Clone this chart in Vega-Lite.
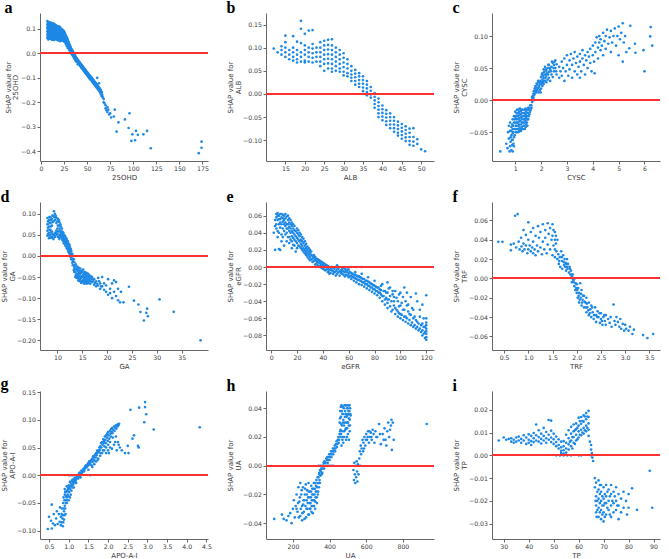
{
  "$schema": "https://vega.github.io/schema/vega-lite/v6.json",
  "padding": {"left": 0, "top": 0, "right": 0, "bottom": 0},
  "bounds": "flush",
  "columns": 3,
  "spacing": {"row": 41, "column": 58},
  "config": {
    "view": {"stroke": null},
    "font": "DejaVu Sans",
    "axis": {
      "grid": false,
      "labelFont": "DejaVu Sans",
      "labelFontSize": 6.2,
      "labelColor": "#3a3a3a",
      "titleFont": "DejaVu Sans",
      "titleFontSize": 7,
      "titleFontWeight": "normal",
      "titleColor": "#3a3a3a",
      "titleLineHeight": 7.5,
      "domainColor": "#666",
      "tickColor": "#666",
      "tickSize": 3,
      "labelPadding": 1.5,
      "titlePadding": 1.5,
      "labelFlush": false
    },
    "title": {
      "font": "Liberation Serif",
      "fontSize": 16,
      "fontWeight": "bold",
      "color": "#000",
      "anchor": "start",
      "frame": "bounds",
      "offset": -3
    }
  },
  "datasets": {
    "a": [
      {"x":7,"y":0.132},{"x":7,"y":0.118},{"x":7,"y":0.104},{"x":7,"y":0.09},{"x":7,"y":0.077},{"x":7,"y":0.063},
      {"x":8,"y":0.128},{"x":8,"y":0.112},{"x":8,"y":0.097},{"x":8,"y":0.083},{"x":8,"y":0.07},{"x":8,"y":0.057},
      {"x":9,"y":0.125},{"x":9,"y":0.11},{"x":9,"y":0.095},{"x":9,"y":0.08},{"x":9,"y":0.066},
      {"x":10,"y":0.127},{"x":10,"y":0.114},{"x":10,"y":0.1},{"x":10,"y":0.087},{"x":10,"y":0.073},{"x":10,"y":0.06},
      {"x":11,"y":0.12},{"x":11,"y":0.105},{"x":11,"y":0.092},{"x":11,"y":0.078},{"x":11,"y":0.064},
      {"x":12,"y":0.124},{"x":12,"y":0.11},{"x":12,"y":0.096},{"x":12,"y":0.082},{"x":12,"y":0.068},{"x":12,"y":0.056},
      {"x":13,"y":0.119},{"x":13,"y":0.104},{"x":13,"y":0.09},{"x":13,"y":0.076},{"x":13,"y":0.062},
      {"x":14,"y":0.122},{"x":14,"y":0.108},{"x":14,"y":0.094},{"x":14,"y":0.08},{"x":14,"y":0.066},{"x":14,"y":0.055},
      {"x":15,"y":0.118},{"x":15,"y":0.103},{"x":15,"y":0.089},{"x":15,"y":0.075},{"x":15,"y":0.061},
      {"x":16,"y":0.116},{"x":16,"y":0.1},{"x":16,"y":0.086},{"x":16,"y":0.072},{"x":16,"y":0.058},
      {"x":17,"y":0.113},{"x":17,"y":0.098},{"x":17,"y":0.084},{"x":17,"y":0.07},{"x":17,"y":0.057},
      {"x":18,"y":0.111},{"x":18,"y":0.096},{"x":18,"y":0.082},{"x":18,"y":0.068},{"x":18,"y":0.055},
      {"x":19,"y":0.108},{"x":19,"y":0.094},{"x":19,"y":0.08},{"x":19,"y":0.066},{"x":19,"y":0.053},
      {"x":20,"y":0.11},{"x":20,"y":0.097},{"x":20,"y":0.084},{"x":20,"y":0.071},{"x":20,"y":0.058},
      {"x":21,"y":0.104},{"x":21,"y":0.09},{"x":21,"y":0.077},{"x":21,"y":0.063},{"x":21,"y":0.05},
      {"x":22,"y":0.1},{"x":22,"y":0.087},{"x":22,"y":0.074},{"x":22,"y":0.06},
      {"x":23,"y":0.097},{"x":23,"y":0.083},{"x":23,"y":0.07},{"x":23,"y":0.056},
      {"x":24,"y":0.094},{"x":24,"y":0.08},{"x":24,"y":0.066},{"x":24,"y":0.052},
      {"x":25,"y":0.09},{"x":25,"y":0.077},{"x":25,"y":0.063},{"x":25,"y":0.05},
      {"x":26,"y":0.082},{"x":26,"y":0.068},{"x":26,"y":0.055},{"x":26,"y":0.045},
      {"x":27,"y":0.073},{"x":27,"y":0.06},{"x":27,"y":0.048},{"x":27,"y":0.038},
      {"x":28,"y":0.065},{"x":28,"y":0.052},{"x":28,"y":0.04},{"x":28,"y":0.03},
      {"x":29,"y":0.055},{"x":29,"y":0.042},{"x":29,"y":0.03},{"x":29,"y":0.022},
      {"x":30,"y":0.045},{"x":30,"y":0.032},{"x":30,"y":0.02},
      {"x":31,"y":0.035},{"x":31,"y":0.024},{"x":31,"y":0.013},
      {"x":32,"y":0.027},{"x":32,"y":0.016},{"x":32,"y":0.006},
      {"x":33,"y":0.018},{"x":33,"y":0.008},{"x":33,"y":-0.002},
      {"x":34,"y":0.012},{"x":34,"y":0.002},{"x":34,"y":-0.007},
      {"x":35,"y":0.004},{"x":35,"y":-0.006},{"x":35,"y":-0.013},
      {"x":36,"y":-0.003},{"x":36,"y":-0.012},{"x":36,"y":-0.02},
      {"x":37,"y":-0.01},{"x":37,"y":-0.018},{"x":37,"y":-0.026},
      {"x":38,"y":-0.016},{"x":38,"y":-0.025},{"x":38,"y":-0.033},
      {"x":39,"y":-0.022},{"x":39,"y":-0.031},
      {"x":40,"y":-0.027},{"x":40,"y":-0.037},{"x":40,"y":-0.045},
      {"x":41,"y":-0.033},{"x":41,"y":-0.043},{"x":42,"y":-0.038},{"x":42,"y":-0.048},
      {"x":43,"y":-0.043},{"x":43,"y":-0.053},{"x":44,"y":-0.048},{"x":44,"y":-0.058},
      {"x":45,"y":-0.052},{"x":45,"y":-0.063},{"x":46,"y":-0.058},{"x":46,"y":-0.068},
      {"x":47,"y":-0.062},{"x":47,"y":-0.073},{"x":48,"y":-0.067},{"x":48,"y":-0.078},
      {"x":49,"y":-0.072},{"x":49,"y":-0.083},{"x":50,"y":-0.077},{"x":50,"y":-0.088},
      {"x":51,"y":-0.082},{"x":51,"y":-0.093},{"x":52,"y":-0.087},{"x":52,"y":-0.098},
      {"x":53,"y":-0.092},{"x":53,"y":-0.104},{"x":54,"y":-0.097},{"x":54,"y":-0.108},
      {"x":55,"y":-0.1},{"x":55,"y":-0.112},{"x":56,"y":-0.106},{"x":56,"y":-0.118},
      {"x":57,"y":-0.11},{"x":57,"y":-0.122},{"x":58,"y":-0.115},{"x":58,"y":-0.128},
      {"x":59,"y":-0.12},{"x":59,"y":-0.133},{"x":60,"y":-0.125},{"x":60,"y":-0.138},
      {"x":61,"y":-0.1},{"x":61,"y":-0.13},{"x":61,"y":-0.143},{"x":62,"y":-0.135},{"x":62,"y":-0.148},
      {"x":63,"y":-0.122},{"x":63,"y":-0.14},{"x":63,"y":-0.153},{"x":64,"y":-0.145},{"x":64,"y":-0.16},
      {"x":65,"y":-0.15},{"x":65,"y":-0.168},{"x":66,"y":-0.158},{"x":66,"y":-0.175},
      {"x":67,"y":-0.18},{"x":68,"y":-0.187},{"x":68,"y":-0.2},{"x":69,"y":-0.205},
      {"x":70,"y":-0.212},{"x":70,"y":-0.225},{"x":71,"y":-0.233},{"x":72,"y":-0.24},{"x":72,"y":-0.22},
      {"x":73,"y":-0.23},{"x":74,"y":-0.25},{"x":75,"y":-0.245},{"x":76,"y":-0.262},{"x":79,"y":-0.258},
      {"x":80,"y":-0.23},{"x":82,"y":-0.32},{"x":84,"y":-0.282},{"x":91,"y":-0.27},{"x":95,"y":-0.305},
      {"x":96,"y":-0.245},{"x":98,"y":-0.358},{"x":99,"y":-0.331},{"x":102,"y":-0.355},{"x":103,"y":-0.317},
      {"x":105,"y":-0.333},{"x":111,"y":-0.331},{"x":115,"y":-0.317},{"x":119,"y":-0.388},
      {"x":171,"y":-0.408},{"x":174,"y":-0.361},{"x":174,"y":-0.386},
      {"x":7.5,"y":0.125},{"x":7.5,"y":0.111},{"x":7.5,"y":0.097},{"x":7.5,"y":0.084},{"x":7.5,"y":0.07},
      {"x":8.5,"y":0.12},{"x":8.5,"y":0.105},{"x":8.5,"y":0.09},{"x":8.5,"y":0.076},{"x":8.5,"y":0.062},
      {"x":9.5,"y":0.118},{"x":9.5,"y":0.103},{"x":9.5,"y":0.088},{"x":9.5,"y":0.073},{"x":9.5,"y":0.06},
      {"x":10.5,"y":0.12},{"x":10.5,"y":0.107},{"x":10.5,"y":0.093},{"x":10.5,"y":0.08},{"x":10.5,"y":0.066},
      {"x":11.5,"y":0.113},{"x":11.5,"y":0.099},{"x":11.5,"y":0.085},{"x":11.5,"y":0.071},{"x":11.5,"y":0.058},
      {"x":12.5,"y":0.117},{"x":12.5,"y":0.103},{"x":12.5,"y":0.089},{"x":12.5,"y":0.075},{"x":12.5,"y":0.061},
      {"x":13.5,"y":0.112},{"x":13.5,"y":0.097},{"x":13.5,"y":0.083},{"x":13.5,"y":0.069},{"x":13.5,"y":0.056},
      {"x":14.5,"y":0.115},{"x":14.5,"y":0.101},{"x":14.5,"y":0.087},{"x":14.5,"y":0.073},{"x":14.5,"y":0.06},
      {"x":15.5,"y":0.11},{"x":15.5,"y":0.096},{"x":15.5,"y":0.082},{"x":15.5,"y":0.068},
      {"x":16.5,"y":0.108},{"x":16.5,"y":0.093},{"x":16.5,"y":0.079},{"x":16.5,"y":0.065},
      {"x":17.5,"y":0.105},{"x":17.5,"y":0.091},{"x":17.5,"y":0.077},{"x":17.5,"y":0.063},
      {"x":18.5,"y":0.103},{"x":18.5,"y":0.089},{"x":18.5,"y":0.075},{"x":18.5,"y":0.061},
      {"x":19.5,"y":0.101},{"x":19.5,"y":0.087},{"x":19.5,"y":0.073},{"x":19.5,"y":0.06},
      {"x":20.5,"y":0.103},{"x":20.5,"y":0.09},{"x":20.5,"y":0.077},{"x":20.5,"y":0.064},
      {"x":21.5,"y":0.097},{"x":21.5,"y":0.083},{"x":21.5,"y":0.07},{"x":21.5,"y":0.056},
      {"x":22.5,"y":0.093},{"x":22.5,"y":0.08},{"x":22.5,"y":0.067},{"x":22.5,"y":0.054},
      {"x":23.5,"y":0.09},{"x":23.5,"y":0.076},{"x":23.5,"y":0.063},
      {"x":24.5,"y":0.087},{"x":24.5,"y":0.073},{"x":24.5,"y":0.059},
      {"x":25.5,"y":0.083},{"x":25.5,"y":0.07},{"x":25.5,"y":0.057},
      {"x":26.5,"y":0.075},{"x":26.5,"y":0.062},{"x":26.5,"y":0.05},
      {"x":27.5,"y":0.068},{"x":27.5,"y":0.055},{"x":27.5,"y":0.043},
      {"x":28.5,"y":0.06},{"x":28.5,"y":0.047},{"x":28.5,"y":0.035},
      {"x":29.5,"y":0.05},{"x":29.5,"y":0.037},{"x":29.5,"y":0.026},
      {"x":30.5,"y":0.04},{"x":30.5,"y":0.027},{"x":31.5,"y":0.031},{"x":31.5,"y":0.019},
      {"x":32.5,"y":0.022},{"x":32.5,"y":0.011},{"x":33.5,"y":0.014},{"x":33.5,"y":0.003},
      {"x":34.5,"y":0.008},{"x":34.5,"y":-0.002},{"x":35.5,"y":0.0},{"x":35.5,"y":-0.01},
      {"x":36.5,"y":-0.007},{"x":36.5,"y":-0.016},{"x":37.5,"y":-0.013},{"x":37.5,"y":-0.022},
      {"x":38.5,"y":-0.02},{"x":38.5,"y":-0.029},{"x":39.5,"y":-0.025},{"x":39.5,"y":-0.035},
      {"x":40.5,"y":-0.031},{"x":40.5,"y":-0.041},{"x":41.5,"y":-0.036},{"x":41.5,"y":-0.046},
      {"x":42.5,"y":-0.041},{"x":42.5,"y":-0.051},{"x":43.5,"y":-0.046},{"x":43.5,"y":-0.056},
      {"x":44.5,"y":-0.05},{"x":44.5,"y":-0.061},{"x":45.5,"y":-0.055},{"x":45.5,"y":-0.066},
      {"x":46.5,"y":-0.06},{"x":46.5,"y":-0.071},{"x":47.5,"y":-0.065},{"x":47.5,"y":-0.076},
      {"x":48.5,"y":-0.07},{"x":48.5,"y":-0.081},{"x":49.5,"y":-0.075},{"x":49.5,"y":-0.086},
      {"x":50.5,"y":-0.08},{"x":50.5,"y":-0.091},{"x":51.5,"y":-0.085},{"x":51.5,"y":-0.096},
      {"x":52.5,"y":-0.09},{"x":52.5,"y":-0.101},{"x":53.5,"y":-0.095},{"x":53.5,"y":-0.106},
      {"x":54.5,"y":-0.099},{"x":55.5,"y":-0.104},{"x":55.5,"y":-0.116},{"x":56.5,"y":-0.108},
      {"x":57.5,"y":-0.113},{"x":57.5,"y":-0.125},{"x":58.5,"y":-0.118},{"x":59.5,"y":-0.123},
      {"x":60.5,"y":-0.128},{"x":61.5,"y":-0.138},{"x":62.5,"y":-0.142},{"x":63.5,"y":-0.148},
      {"x":64.5,"y":-0.155},{"x":65.5,"y":-0.163},{"x":66.5,"y":-0.17}
    ],
    "b": [
      {"x":12,"y":0.098},{"x":13,"y":0.09},
      {"x":14,"y":0.095},{"x":14,"y":0.103},{"x":14,"y":0.085},
      {"x":15,"y":0.126},{"x":15,"y":0.112},{"x":15,"y":0.1},{"x":15,"y":0.09},{"x":15,"y":0.08},
      {"x":16,"y":0.095},{"x":16,"y":0.085},{"x":16,"y":0.075},
      {"x":17,"y":0.125},{"x":17,"y":0.1},{"x":17,"y":0.09},{"x":17,"y":0.08},{"x":17,"y":0.072},
      {"x":18,"y":0.113},{"x":18,"y":0.095},{"x":18,"y":0.085},{"x":18,"y":0.075},{"x":18,"y":0.068},
      {"x":19,"y":0.158},{"x":19,"y":0.141},{"x":19,"y":0.11},{"x":19,"y":0.09},{"x":19,"y":0.08},{"x":19,"y":0.07},
      {"x":20,"y":0.13},{"x":20,"y":0.105},{"x":20,"y":0.095},{"x":20,"y":0.085},{"x":20,"y":0.072},{"x":20,"y":0.068},
      {"x":21,"y":0.137},{"x":21,"y":0.1},{"x":21,"y":0.09},{"x":21,"y":0.08},{"x":21,"y":0.07},
      {"x":22,"y":0.138},{"x":22,"y":0.108},{"x":22,"y":0.098},{"x":22,"y":0.088},{"x":22,"y":0.078},{"x":22,"y":0.068},
      {"x":23,"y":0.1},{"x":23,"y":0.09},{"x":23,"y":0.08},{"x":23,"y":0.07},
      {"x":24,"y":0.112},{"x":24,"y":0.1},{"x":24,"y":0.09},{"x":24,"y":0.08},{"x":24,"y":0.07},{"x":24,"y":0.06},
      {"x":25,"y":0.115},{"x":25,"y":0.105},{"x":25,"y":0.095},{"x":25,"y":0.085},{"x":25,"y":0.075},{"x":25,"y":0.065},{"x":25,"y":0.05},
      {"x":26,"y":0.117},{"x":26,"y":0.106},{"x":26,"y":0.096},{"x":26,"y":0.086},{"x":26,"y":0.076},{"x":26,"y":0.066},{"x":26,"y":0.055},
      {"x":27,"y":0.118},{"x":27,"y":0.105},{"x":27,"y":0.095},{"x":27,"y":0.085},{"x":27,"y":0.075},{"x":27,"y":0.065},{"x":27,"y":0.055},{"x":27,"y":0.048},
      {"x":28,"y":0.1},{"x":28,"y":0.09},{"x":28,"y":0.08},{"x":28,"y":0.07},{"x":28,"y":0.06},{"x":28,"y":0.05},
      {"x":29,"y":0.095},{"x":29,"y":0.085},{"x":29,"y":0.075},{"x":29,"y":0.065},{"x":29,"y":0.055},{"x":29,"y":0.048},
      {"x":30,"y":0.088},{"x":30,"y":0.078},{"x":30,"y":0.068},{"x":30,"y":0.058},{"x":30,"y":0.048},{"x":30,"y":0.04},
      {"x":31,"y":0.075},{"x":31,"y":0.065},{"x":31,"y":0.055},{"x":31,"y":0.045},{"x":31,"y":0.038},
      {"x":32,"y":0.06},{"x":32,"y":0.05},{"x":32,"y":0.042},{"x":32,"y":0.035},{"x":32,"y":0.028},
      {"x":33,"y":0.052},{"x":33,"y":0.044},{"x":33,"y":0.036},{"x":33,"y":0.028},{"x":33,"y":0.02},
      {"x":34,"y":0.045},{"x":34,"y":0.038},{"x":34,"y":0.03},{"x":34,"y":0.022},{"x":34,"y":0.015},
      {"x":35,"y":0.038},{"x":35,"y":0.03},{"x":35,"y":0.022},{"x":35,"y":0.014},{"x":35,"y":0.006},
      {"x":36,"y":0.028},{"x":36,"y":0.02},{"x":36,"y":0.012},{"x":36,"y":0.004},{"x":36,"y":-0.003},
      {"x":37,"y":0.015},{"x":37,"y":0.007},{"x":37,"y":-0.001},{"x":37,"y":-0.008},
      {"x":38,"y":0.002},{"x":38,"y":-0.006},{"x":38,"y":-0.014},{"x":38,"y":-0.022},{"x":38,"y":-0.03},
      {"x":39,"y":-0.01},{"x":39,"y":-0.018},{"x":39,"y":-0.026},{"x":39,"y":-0.034},{"x":39,"y":-0.042},{"x":39,"y":-0.05},
      {"x":40,"y":-0.025},{"x":40,"y":-0.033},{"x":40,"y":-0.041},{"x":40,"y":-0.049},{"x":40,"y":-0.057},
      {"x":41,"y":-0.035},{"x":41,"y":-0.043},{"x":41,"y":-0.051},{"x":41,"y":-0.059},{"x":41,"y":-0.067},
      {"x":42,"y":-0.042},{"x":42,"y":-0.05},{"x":42,"y":-0.058},{"x":42,"y":-0.066},{"x":42,"y":-0.074},
      {"x":43,"y":-0.05},{"x":43,"y":-0.058},{"x":43,"y":-0.066},{"x":43,"y":-0.074},{"x":43,"y":-0.082},
      {"x":44,"y":-0.06},{"x":44,"y":-0.068},{"x":44,"y":-0.076},{"x":44,"y":-0.084},{"x":44,"y":-0.09},
      {"x":45,"y":-0.065},{"x":45,"y":-0.073},{"x":45,"y":-0.081},{"x":45,"y":-0.089},{"x":45,"y":-0.097},
      {"x":46,"y":-0.07},{"x":46,"y":-0.078},{"x":46,"y":-0.086},{"x":46,"y":-0.094},{"x":46,"y":-0.102},
      {"x":47,"y":-0.075},{"x":47,"y":-0.084},{"x":47,"y":-0.093},{"x":47,"y":-0.102},{"x":47,"y":-0.11},
      {"x":48,"y":-0.074},{"x":48,"y":-0.093},{"x":48,"y":-0.103},{"x":48,"y":-0.112},
      {"x":49,"y":-0.098},{"x":49,"y":-0.108},{"x":50,"y":-0.12},{"x":51,"y":-0.124}
    ],
    "c": [
      {"x":0.42,"y":-0.08},{"x":0.65,"y":-0.068},{"x":0.7,"y":-0.075},{"x":0.75,"y":-0.06},{"x":0.78,"y":-0.08},
      {"x":0.8,"y":-0.072},{"x":0.82,"y":-0.065},{"x":0.85,"y":-0.078},{"x":0.85,"y":-0.055},{"x":0.88,"y":-0.07},
      {"x":0.9,"y":-0.08},{"x":0.9,"y":-0.062},{"x":0.92,"y":-0.05},{"x":0.95,"y":-0.072},{"x":0.95,"y":-0.058},
      {"x":0.72,"y":-0.05},{"x":0.75,"y":-0.04},{"x":0.8,"y":-0.035},{"x":0.8,"y":-0.048},{"x":0.85,"y":-0.042},
      {"x":0.9,"y":-0.03},{"x":0.9,"y":-0.045},{"x":0.95,"y":-0.035},{"x":0.95,"y":-0.025},
      {"x":1.0,"y":-0.045},{"x":1.0,"y":-0.035},{"x":1.0,"y":-0.025},{"x":1.0,"y":-0.018},
      {"x":1.05,"y":-0.05},{"x":1.05,"y":-0.04},{"x":1.05,"y":-0.03},{"x":1.05,"y":-0.02},
      {"x":1.1,"y":-0.045},{"x":1.1,"y":-0.035},{"x":1.1,"y":-0.025},{"x":1.1,"y":-0.015},
      {"x":1.15,"y":-0.048},{"x":1.15,"y":-0.038},{"x":1.15,"y":-0.028},{"x":1.15,"y":-0.018},
      {"x":1.2,"y":-0.045},{"x":1.2,"y":-0.033},{"x":1.2,"y":-0.022},{"x":1.2,"y":-0.014},
      {"x":1.25,"y":-0.042},{"x":1.25,"y":-0.03},{"x":1.25,"y":-0.02},
      {"x":1.3,"y":-0.045},{"x":1.3,"y":-0.035},{"x":1.3,"y":-0.025},{"x":1.3,"y":-0.015},
      {"x":1.35,"y":-0.04},{"x":1.35,"y":-0.03},{"x":1.35,"y":-0.02},
      {"x":1.4,"y":-0.042},{"x":1.4,"y":-0.032},{"x":1.4,"y":-0.022},{"x":1.4,"y":-0.013},
      {"x":1.45,"y":-0.035},{"x":1.45,"y":-0.025},{"x":1.45,"y":-0.015},
      {"x":1.5,"y":-0.03},{"x":1.5,"y":-0.02},{"x":1.5,"y":-0.012},{"x":1.55,"y":-0.022},{"x":1.55,"y":-0.012},
      {"x":0.82,"y":-0.058},{"x":0.85,"y":-0.048},{"x":0.87,"y":-0.062},{"x":0.88,"y":-0.038},{"x":0.9,"y":-0.052},
      {"x":0.92,"y":-0.04},{"x":0.93,"y":-0.068},{"x":0.97,"y":-0.045},{"x":0.98,"y":-0.055},{"x":0.98,"y":-0.03},
      {"x":1.02,"y":-0.04},{"x":1.02,"y":-0.028},{"x":1.02,"y":-0.05},{"x":1.07,"y":-0.045},{"x":1.07,"y":-0.035},
      {"x":1.07,"y":-0.024},{"x":1.07,"y":-0.015},{"x":1.12,"y":-0.05},{"x":1.12,"y":-0.04},{"x":1.12,"y":-0.03},
      {"x":1.12,"y":-0.02},{"x":1.17,"y":-0.043},{"x":1.17,"y":-0.033},{"x":1.17,"y":-0.023},{"x":1.17,"y":-0.013},
      {"x":1.22,"y":-0.048},{"x":1.22,"y":-0.038},{"x":1.22,"y":-0.027},{"x":1.22,"y":-0.017},{"x":1.27,"y":-0.045},
      {"x":1.27,"y":-0.035},{"x":1.27,"y":-0.025},{"x":1.27,"y":-0.015},{"x":1.32,"y":-0.04},{"x":1.32,"y":-0.03},
      {"x":1.32,"y":-0.02},{"x":1.37,"y":-0.045},{"x":1.37,"y":-0.035},{"x":1.37,"y":-0.025},{"x":1.37,"y":-0.015},
      {"x":1.42,"y":-0.038},{"x":1.42,"y":-0.028},{"x":1.42,"y":-0.018},{"x":1.47,"y":-0.04},{"x":1.47,"y":-0.03},
      {"x":1.47,"y":-0.02},{"x":1.52,"y":-0.025},{"x":1.52,"y":-0.015},{"x":1.57,"y":-0.018},{"x":1.58,"y":-0.008},
      {"x":1.6,"y":-0.015},{"x":1.62,"y":-0.008},{"x":1.63,"y":-0.012},{"x":1.65,"y":-0.003},{"x":1.65,"y":0.005},{"x":1.67,"y":0.002},{"x":1.68,"y":0.006},
      {"x":1.7,"y":0.01},{"x":1.7,"y":0.004},{"x":1.72,"y":0.0},{"x":1.72,"y":0.014},{"x":1.73,"y":0.008},{"x":1.75,"y":0.01},{"x":1.75,"y":0.018},
      {"x":1.77,"y":0.014},{"x":1.78,"y":0.022},{"x":1.8,"y":0.012},{"x":1.8,"y":0.02},{"x":1.82,"y":0.016},{"x":1.83,"y":0.026},
      {"x":1.85,"y":0.015},{"x":1.85,"y":0.024},{"x":1.87,"y":0.018},{"x":1.88,"y":0.03},{"x":1.9,"y":0.012},
      {"x":1.9,"y":0.02},{"x":1.9,"y":0.028},{"x":1.93,"y":0.022},{"x":1.95,"y":0.016},{"x":1.95,"y":0.025},{"x":1.97,"y":0.03},{"x":1.98,"y":0.012},
      {"x":2.0,"y":0.018},{"x":2.0,"y":0.028},{"x":2.0,"y":0.036},{"x":2.02,"y":0.025},{"x":2.03,"y":0.04},
      {"x":2.05,"y":0.022},{"x":2.05,"y":0.032},{"x":2.05,"y":0.042},{"x":2.07,"y":0.028},{"x":2.08,"y":0.038},
      {"x":2.1,"y":0.025},{"x":2.1,"y":0.035},{"x":2.1,"y":0.048},{"x":2.12,"y":0.03},{"x":2.12,"y":0.044},
      {"x":2.15,"y":0.03},{"x":2.15,"y":0.04},{"x":2.15,"y":0.052},{"x":2.17,"y":0.035},{"x":2.18,"y":0.048},
      {"x":2.2,"y":0.028},{"x":2.2,"y":0.038},{"x":2.2,"y":0.046},{"x":2.22,"y":0.042},{"x":2.25,"y":0.032},
      {"x":2.25,"y":0.05},{"x":2.27,"y":0.04},{"x":2.28,"y":0.055},{"x":2.3,"y":0.035},{"x":2.3,"y":0.044},
      {"x":2.3,"y":0.055},{"x":2.33,"y":0.05},{"x":2.35,"y":0.03},{"x":2.35,"y":0.048},{"x":2.38,"y":0.045},
      {"x":2.4,"y":0.04},{"x":2.4,"y":0.052},{"x":2.42,"y":0.06},{"x":2.45,"y":0.036},{"x":2.45,"y":0.058},
      {"x":2.48,"y":0.05},{"x":2.5,"y":0.045},{"x":2.5,"y":0.055},{"x":2.52,"y":0.06},{"x":2.55,"y":0.05},
      {"x":2.55,"y":0.062},{"x":2.58,"y":0.045},{"x":2.6,"y":0.04},{"x":2.6,"y":0.056},
      {"x":2.7,"y":0.035},{"x":2.7,"y":0.052},{"x":2.75,"y":0.045},{"x":2.8,"y":0.06},{"x":2.8,"y":0.038},
      {"x":2.85,"y":0.05},{"x":2.9,"y":0.065},{"x":2.9,"y":0.03},{"x":2.95,"y":0.045},{"x":3.0,"y":0.055},
      {"x":3.0,"y":0.07},{"x":3.05,"y":0.038},{"x":3.1,"y":0.062},{"x":3.1,"y":0.048},{"x":3.15,"y":0.072},
      {"x":3.2,"y":0.055},{"x":3.2,"y":0.035},{"x":3.25,"y":0.065},{"x":3.3,"y":0.045},{"x":3.3,"y":0.075},
      {"x":3.35,"y":0.058},{"x":3.4,"y":0.068},{"x":3.4,"y":0.04},{"x":3.45,"y":0.052},{"x":3.5,"y":0.072},
      {"x":3.5,"y":0.06},{"x":3.5,"y":0.035},{"x":3.55,"y":0.045},{"x":3.6,"y":0.065},{"x":3.6,"y":0.078},
      {"x":3.65,"y":0.055},{"x":3.7,"y":0.07},{"x":3.7,"y":0.04},{"x":3.75,"y":0.062},{"x":3.8,"y":0.075},
      {"x":3.8,"y":0.05},{"x":3.85,"y":0.068},{"x":3.9,"y":0.058},{"x":3.9,"y":0.08},{"x":3.95,"y":0.045},
      {"x":4.0,"y":0.07},{"x":4.0,"y":0.085},{"x":4.05,"y":0.06},{"x":4.07,"y":0.042},
      {"x":4.1,"y":0.09},{"x":4.1,"y":0.075},{"x":4.15,"y":0.098},{"x":4.2,"y":0.082},{"x":4.2,"y":0.065},
      {"x":4.25,"y":0.1},{"x":4.25,"y":0.09},{"x":4.3,"y":0.078},{"x":4.3,"y":0.095},{"x":4.35,"y":0.085},
      {"x":4.4,"y":0.105},{"x":4.4,"y":0.07},{"x":4.45,"y":0.092},{"x":4.5,"y":0.08},{"x":4.5,"y":0.1},
      {"x":4.55,"y":0.11},{"x":4.6,"y":0.088},{"x":4.65,"y":0.098},{"x":4.7,"y":0.075},{"x":4.7,"y":0.108},
      {"x":4.75,"y":0.09},{"x":4.8,"y":0.1},{"x":4.85,"y":0.112},{"x":4.9,"y":0.085},{"x":4.95,"y":0.1},
      {"x":5.0,"y":0.115},{"x":5.0,"y":0.07},{"x":5.05,"y":0.095},{"x":5.1,"y":0.105},{"x":5.16,"y":0.12},
      {"x":5.16,"y":0.06},{"x":5.2,"y":0.09},{"x":5.25,"y":0.1},{"x":5.3,"y":0.075},{"x":5.41,"y":0.081},
      {"x":5.45,"y":0.116},{"x":5.63,"y":0.088},{"x":5.65,"y":0.074},{"x":5.96,"y":0.078},{"x":6.0,"y":0.045},
      {"x":6.22,"y":0.0995},{"x":6.24,"y":0.114},{"x":6.3,"y":0.085}
    ],
    "d": [
      {"x":8,"y":0.09},{"x":8,"y":0.075},{"x":8,"y":0.06},{"x":8,"y":0.048},
      {"x":8.3,"y":0.085},{"x":8.3,"y":0.07},{"x":8.3,"y":0.055},{"x":8.3,"y":0.042},
      {"x":8.6,"y":0.092},{"x":8.6,"y":0.078},{"x":8.6,"y":0.062},{"x":8.6,"y":0.05},
      {"x":8.9,"y":0.088},{"x":8.9,"y":0.072},{"x":8.9,"y":0.058},{"x":8.9,"y":0.045},
      {"x":9.2,"y":0.095},{"x":9.2,"y":0.082},{"x":9.2,"y":0.05},{"x":9.2,"y":0.04},
      {"x":9.5,"y":0.1},{"x":9.5,"y":0.085},{"x":9.5,"y":0.055},{"x":9.5,"y":0.045},{"x":9.3,"y":0.106},
      {"x":9.8,"y":0.09},{"x":9.8,"y":0.078},{"x":9.8,"y":0.06},{"x":9.8,"y":0.05},
      {"x":10.1,"y":0.088},{"x":10.1,"y":0.072},{"x":10.1,"y":0.058},{"x":10.1,"y":0.045},
      {"x":10.4,"y":0.08},{"x":10.4,"y":0.065},{"x":10.4,"y":0.05},{"x":10.4,"y":0.04},
      {"x":10.7,"y":0.07},{"x":10.7,"y":0.055},{"x":10.7,"y":0.045},
      {"x":11,"y":0.058},{"x":11,"y":0.048},{"x":11,"y":0.038},
      {"x":11.3,"y":0.05},{"x":11.3,"y":0.04},{"x":11.3,"y":0.03},
      {"x":11.6,"y":0.045},{"x":11.6,"y":0.035},{"x":11.6,"y":0.025},
      {"x":11.9,"y":0.038},{"x":11.9,"y":0.028},{"x":11.9,"y":0.018},
      {"x":12.2,"y":0.03},{"x":12.2,"y":0.02},{"x":12.2,"y":0.01},
      {"x":12.5,"y":0.022},{"x":12.5,"y":0.012},{"x":12.5,"y":0.003},
      {"x":12.8,"y":0.012},{"x":12.8,"y":0.002},{"x":12.8,"y":-0.008},
      {"x":13.1,"y":0.0},{"x":13.1,"y":-0.012},{"x":13.1,"y":-0.022},
      {"x":13.4,"y":-0.015},{"x":13.4,"y":-0.028},{"x":13.4,"y":-0.038},
      {"x":13.7,"y":-0.02},{"x":13.7,"y":-0.032},{"x":13.7,"y":-0.045},
      {"x":14,"y":-0.025},{"x":14,"y":-0.035},{"x":14,"y":-0.048},
      {"x":14.3,"y":-0.028},{"x":14.3,"y":-0.04},{"x":14.3,"y":-0.052},
      {"x":14.6,"y":-0.03},{"x":14.6,"y":-0.042},{"x":14.6,"y":-0.055},
      {"x":14.9,"y":-0.035},{"x":14.9,"y":-0.048},{"x":14.9,"y":-0.06},
      {"x":15.2,"y":-0.032},{"x":15.2,"y":-0.045},{"x":15.2,"y":-0.058},
      {"x":15.5,"y":-0.038},{"x":15.5,"y":-0.05},{"x":15.5,"y":-0.062},
      {"x":15.8,"y":-0.04},{"x":15.8,"y":-0.052},{"x":15.8,"y":-0.065},
      {"x":16.1,"y":-0.042},{"x":16.1,"y":-0.055},{"x":16.1,"y":-0.065},
      {"x":16.4,"y":-0.045},{"x":16.4,"y":-0.058},{"x":16.7,"y":-0.048},{"x":16.7,"y":-0.06},
      {"x":17,"y":-0.05},{"x":17,"y":-0.062},{"x":17.4,"y":-0.055},{"x":17.4,"y":-0.068},
      {"x":17.8,"y":-0.06},{"x":17.8,"y":-0.072},{"x":18.2,"y":-0.052},{"x":18.2,"y":-0.07},
      {"x":18.6,"y":-0.065},{"x":18.6,"y":-0.078},{"x":19,"y":-0.05},{"x":19,"y":-0.072},
      {"x":19.4,"y":-0.08},{"x":19.4,"y":-0.065},{"x":19.8,"y":-0.085},{"x":19.8,"y":-0.07},
      {"x":20.2,"y":-0.055},{"x":20.2,"y":-0.092},{"x":20.6,"y":-0.078},{"x":20.6,"y":-0.088},
      {"x":21,"y":-0.065},{"x":21,"y":-0.1},{"x":21.4,"y":-0.058},{"x":21.4,"y":-0.085},
      {"x":21.8,"y":-0.095},{"x":21.8,"y":-0.062},{"x":22.2,"y":-0.078},{"x":22.2,"y":-0.105},
      {"x":22.6,"y":-0.11},{"x":22.8,"y":-0.085},{"x":23.3,"y":-0.11},{"x":24.4,"y":-0.073},
      {"x":25.4,"y":-0.106},{"x":26.3,"y":-0.115},{"x":26.7,"y":-0.133},{"x":27.4,"y":-0.153},
      {"x":27.9,"y":-0.135},{"x":28.05,"y":-0.125},{"x":28.2,"y":-0.143},{"x":30.55,"y":-0.103},
      {"x":33.4,"y":-0.1325},{"x":38.8,"y":-0.2},
      {"x":8.1,"y":0.082},{"x":8.1,"y":0.067},{"x":8.1,"y":0.052},{"x":8.4,"y":0.092},{"x":8.4,"y":0.078},
      {"x":8.4,"y":0.062},{"x":8.4,"y":0.048},{"x":8.7,"y":0.085},{"x":8.7,"y":0.07},{"x":8.7,"y":0.056},
      {"x":8.7,"y":0.043},{"x":9.0,"y":0.096},{"x":9.0,"y":0.08},{"x":9.0,"y":0.052},{"x":9.0,"y":0.044},
      {"x":9.4,"y":0.092},{"x":9.4,"y":0.05},{"x":9.7,"y":0.095},{"x":9.7,"y":0.055},{"x":10.0,"y":0.082},
      {"x":10.0,"y":0.065},{"x":10.0,"y":0.052},{"x":10.3,"y":0.085},{"x":10.3,"y":0.072},{"x":10.3,"y":0.058},
      {"x":10.3,"y":0.045},{"x":10.6,"y":0.075},{"x":10.6,"y":0.06},{"x":10.6,"y":0.05},{"x":10.9,"y":0.065},
      {"x":10.9,"y":0.052},{"x":10.9,"y":0.042},{"x":11.2,"y":0.055},{"x":11.2,"y":0.045},{"x":11.2,"y":0.035},
      {"x":11.5,"y":0.048},{"x":11.5,"y":0.038},{"x":11.5,"y":0.03},{"x":11.8,"y":0.042},{"x":11.8,"y":0.032},
      {"x":11.8,"y":0.022},{"x":12.1,"y":0.035},{"x":12.1,"y":0.025},{"x":12.1,"y":0.015},{"x":12.4,"y":0.027},
      {"x":12.4,"y":0.017},{"x":12.4,"y":0.007},{"x":12.7,"y":0.017},{"x":12.7,"y":0.006},{"x":12.7,"y":-0.003},
      {"x":13.0,"y":0.005},{"x":13.0,"y":-0.006},{"x":13.0,"y":-0.016},{"x":13.3,"y":-0.008},{"x":13.3,"y":-0.022},
      {"x":13.3,"y":-0.033},{"x":13.6,"y":-0.025},{"x":13.6,"y":-0.038},{"x":13.6,"y":-0.05},{"x":13.9,"y":-0.03},
      {"x":13.9,"y":-0.042},{"x":13.9,"y":-0.052},{"x":14.2,"y":-0.033},{"x":14.2,"y":-0.045},{"x":14.2,"y":-0.058},
      {"x":14.5,"y":-0.036},{"x":14.5,"y":-0.048},{"x":14.5,"y":-0.06},{"x":14.8,"y":-0.04},{"x":14.8,"y":-0.052},
      {"x":14.8,"y":-0.064},{"x":15.1,"y":-0.038},{"x":15.1,"y":-0.05},{"x":15.1,"y":-0.062},{"x":15.4,"y":-0.043},
      {"x":15.4,"y":-0.055},{"x":15.4,"y":-0.066},{"x":15.7,"y":-0.045},{"x":15.7,"y":-0.058},{"x":16.0,"y":-0.048},
      {"x":16.0,"y":-0.06},{"x":16.3,"y":-0.05},{"x":16.3,"y":-0.063},{"x":16.6,"y":-0.053},{"x":16.6,"y":-0.066},
      {"x":16.9,"y":-0.055},{"x":17.2,"y":-0.06},{"x":17.6,"y":-0.064},{"x":18.0,"y":-0.066},{"x":18.4,"y":-0.06},
      {"x":18.8,"y":-0.072}
    ],
    "e": [
      {"x":2,"y":0.04},{"x":3,"y":0.02},{"x":3,"y":0.055},{"x":4,"y":0.062},{"x":4,"y":0.05},{"x":4,"y":0.045},
      {"x":5,"y":0.063},{"x":5,"y":0.055},{"x":5,"y":0.042},{"x":5,"y":0.035},{"x":6,"y":0.06},{"x":6,"y":0.05},
      {"x":6,"y":0.04},{"x":6,"y":0.021},{"x":7,"y":0.062},{"x":7,"y":0.056},{"x":7,"y":0.046},{"x":7,"y":0.02},
      {"x":8,"y":0.058},{"x":8,"y":0.05},{"x":8,"y":0.038},{"x":8,"y":0.03},{"x":9,"y":0.061},{"x":9,"y":0.053},
      {"x":9,"y":0.045},{"x":9,"y":0.035},{"x":10,"y":0.06},{"x":10,"y":0.05},{"x":10,"y":0.042},{"x":10,"y":0.025},
      {"x":11,"y":0.057},{"x":11,"y":0.048},{"x":11,"y":0.038},{"x":12,"y":0.059},{"x":12,"y":0.05},{"x":12,"y":0.04},
      {"x":12,"y":0.03},{"x":13,"y":0.055},{"x":13,"y":0.045},{"x":13,"y":0.035},{"x":14,"y":0.052},{"x":14,"y":0.042},
      {"x":14,"y":0.028},{"x":15,"y":0.05},{"x":15,"y":0.04},{"x":15,"y":0.032},{"x":16,"y":0.048},{"x":16,"y":0.036},
      {"x":16,"y":0.022},{"x":17,"y":0.045},{"x":17,"y":0.034},{"x":17,"y":0.026},{"x":18,"y":0.043},{"x":18,"y":0.032},
      {"x":19,"y":0.042},{"x":19,"y":0.03},{"x":19,"y":0.018},{"x":20,"y":0.04},{"x":20,"y":0.028},{"x":21,"y":0.038},
      {"x":21,"y":0.025},{"x":22,"y":0.036},{"x":22,"y":0.024},{"x":23,"y":0.032},{"x":23,"y":0.022},{"x":24,"y":0.03},
      {"x":24,"y":0.02},{"x":25,"y":0.028},{"x":25,"y":0.018},{"x":26,"y":0.025},{"x":26,"y":0.016},{"x":27,"y":0.022},
      {"x":27,"y":0.014},{"x":28,"y":0.02},{"x":28,"y":0.012},{"x":29,"y":0.018},{"x":29,"y":0.01},{"x":30,"y":0.016},
      {"x":30,"y":0.008},{"x":31,"y":0.014},{"x":32,"y":0.013},{"x":32,"y":0.006},{"x":33,"y":0.011},{"x":34,"y":0.009},
      {"x":34,"y":0.003},{"x":35,"y":0.0},{"x":35,"y":0.007},{"x":36,"y":0.006},{"x":37,"y":0.005},{"x":37,"y":0.0},
      {"x":38,"y":0.004},{"x":39,"y":0.003},{"x":40,"y":0.002},{"x":40,"y":-0.002},{"x":41,"y":0.001},{"x":42,"y":0.0},
      {"x":43,"y":0.0},{"x":43,"y":-0.003},{"x":44,"y":-0.002},{"x":45,"y":0.0},{"x":45,"y":-0.004},{"x":45,"y":-0.008},
      {"x":46,"y":-0.003},{"x":47,"y":0.0},{"x":48,"y":-0.005},{"x":49,"y":-0.002},{"x":50,"y":-0.005},{"x":50,"y":-0.01},
      {"x":51,"y":0.002},{"x":52,"y":-0.006},{"x":53,"y":0.0},{"x":54,"y":-0.004},{"x":55,"y":-0.008},{"x":55,"y":-0.002},
      {"x":56,"y":-0.005},{"x":57,"y":-0.002},{"x":58,"y":-0.009},{"x":59,"y":-0.006},{"x":60,"y":-0.008},{"x":60,"y":-0.003},
      {"x":61,"y":-0.011},{"x":62,"y":-0.007},{"x":63,"y":-0.012},{"x":64,"y":-0.009},{"x":65,"y":-0.013},{"x":65,"y":-0.006},
      {"x":66,"y":-0.01},{"x":67,"y":-0.015},{"x":68,"y":-0.011},{"x":69,"y":-0.016},{"x":70,"y":-0.013},{"x":70,"y":-0.008},
      {"x":71,"y":-0.018},{"x":72,"y":-0.014},{"x":73,"y":-0.02},{"x":74,"y":-0.016},{"x":75,"y":-0.022},{"x":75,"y":-0.012},
      {"x":76,"y":-0.018},{"x":77,"y":-0.024},{"x":78,"y":-0.02},{"x":79,"y":-0.026},{"x":80,"y":-0.022},{"x":80,"y":-0.016},
      {"x":81,"y":-0.028},{"x":82,"y":-0.024},{"x":83,"y":-0.03},{"x":84,"y":-0.026},{"x":85,"y":-0.032},{"x":85,"y":-0.022},
      {"x":86,"y":-0.02},{"x":87,"y":-0.034},{"x":88,"y":-0.028},{"x":89,"y":-0.036},{"x":90,"y":-0.018},{"x":90,"y":-0.03},
      {"x":90,"y":-0.038},{"x":91,"y":-0.038},{"x":92,"y":-0.024},{"x":93,"y":-0.04},{"x":94,"y":-0.032},{"x":95,"y":-0.045},
      {"x":95,"y":-0.035},{"x":96,"y":-0.028},{"x":97,"y":-0.05},{"x":98,"y":-0.04},{"x":99,"y":-0.054},{"x":100,"y":-0.03},
      {"x":100,"y":-0.045},{"x":100,"y":-0.055},{"x":101,"y":-0.056},{"x":102,"y":-0.05},{"x":103,"y":-0.024},{"x":103,"y":-0.058},
      {"x":104,"y":-0.04},{"x":105,"y":-0.06},{"x":105,"y":-0.045},{"x":106,"y":-0.052},{"x":107,"y":-0.062},{"x":108,"y":-0.035},
      {"x":108,"y":-0.056},{"x":109,"y":-0.065},{"x":110,"y":-0.06},{"x":110,"y":-0.05},{"x":111,"y":-0.068},{"x":112,"y":-0.031},
      {"x":112,"y":-0.062},{"x":113,"y":-0.07},{"x":114,"y":-0.066},{"x":115,"y":-0.072},{"x":115,"y":-0.058},{"x":116,"y":-0.068},
      {"x":117,"y":-0.044},{"x":117,"y":-0.074},{"x":118,"y":-0.07},{"x":119,"y":-0.076},{"x":120,"y":-0.033},{"x":120,"y":-0.06},
      {"x":120,"y":-0.065},{"x":120,"y":-0.072},{"x":120,"y":-0.078},{"x":120,"y":-0.085},
      {"x":34,"y":0},{"x":38,"y":0},{"x":42,"y":0},{"x":47,"y":0},{"x":52,"y":0},{"x":57,"y":0},{"x":62,"y":0},{"x":66,"y":0},{"x":70,"y":0},
      {"x":3,"y":0.048},{"x":4,"y":0.058},{"x":5,"y":0.06},{"x":6,"y":0.056},{"x":7,"y":0.052},{"x":8,"y":0.062},
      {"x":9,"y":0.057},{"x":10,"y":0.055},{"x":11,"y":0.062},{"x":11,"y":0.052},{"x":12,"y":0.045},{"x":13,"y":0.06},
      {"x":13,"y":0.05},{"x":14,"y":0.057},{"x":14,"y":0.047},{"x":14,"y":0.035},{"x":15,"y":0.055},{"x":15,"y":0.045},
      {"x":16,"y":0.052},{"x":16,"y":0.042},{"x":16,"y":0.03},{"x":17,"y":0.05},{"x":17,"y":0.04},{"x":18,"y":0.048},
      {"x":18,"y":0.038},{"x":18,"y":0.025},{"x":19,"y":0.036},{"x":20,"y":0.045},{"x":20,"y":0.034},{"x":20,"y":0.022},
      {"x":21,"y":0.043},{"x":21,"y":0.032},{"x":22,"y":0.04},{"x":22,"y":0.03},{"x":23,"y":0.038},{"x":23,"y":0.027},
      {"x":24,"y":0.035},{"x":24,"y":0.025},{"x":25,"y":0.033},{"x":25,"y":0.022},{"x":26,"y":0.03},{"x":26,"y":0.02},
      {"x":27,"y":0.027},{"x":27,"y":0.018},{"x":28,"y":0.024},{"x":28,"y":0.016},{"x":29,"y":0.022},{"x":29,"y":0.014},
      {"x":30,"y":0.02},{"x":30,"y":0.012},{"x":31,"y":0.018},{"x":31,"y":0.009},{"x":32,"y":0.01},{"x":33,"y":0.014},
      {"x":33,"y":0.007},{"x":34,"y":0.012},{"x":35,"y":0.01},{"x":35,"y":0.004},{"x":36,"y":0.009},{"x":36,"y":0.002},
      {"x":37,"y":0.008},{"x":38,"y":0.007},{"x":38,"y":0.001},{"x":39,"y":0.006},{"x":39,"y":-0.001},{"x":40,"y":0.005},
      {"x":41,"y":0.004},{"x":41,"y":-0.003},{"x":42,"y":0.003},{"x":42,"y":-0.004},{"x":43,"y":0.002},{"x":44,"y":0.001},
      {"x":44,"y":-0.006},{"x":46,"y":-0.001},{"x":46,"y":-0.007},{"x":47,"y":-0.004},{"x":48,"y":-0.001},{"x":48,"y":-0.008},
      {"x":49,"y":-0.006},{"x":51,"y":-0.003},{"x":51,"y":-0.008},{"x":52,"y":-0.002},{"x":53,"y":-0.005},{"x":53,"y":-0.01},
      {"x":54,"y":-0.007},{"x":55,"y":-0.005},{"x":56,"y":-0.009},{"x":56,"y":-0.001},{"x":57,"y":-0.006},{"x":57,"y":-0.011},
      {"x":58,"y":-0.004},{"x":59,"y":-0.01},{"x":59,"y":-0.003},{"x":60,"y":-0.012},{"x":61,"y":-0.006},{"x":62,"y":-0.01},
      {"x":62,"y":-0.014},{"x":63,"y":-0.008},{"x":64,"y":-0.012},{"x":64,"y":-0.016},{"x":65,"y":-0.009},{"x":66,"y":-0.014},
      {"x":66,"y":-0.018},{"x":67,"y":-0.011},{"x":68,"y":-0.015},{"x":68,"y":-0.02},{"x":69,"y":-0.012},{"x":70,"y":-0.017},
      {"x":70,"y":-0.021},{"x":71,"y":-0.014},{"x":72,"y":-0.018},{"x":72,"y":-0.023},{"x":73,"y":-0.016},{"x":74,"y":-0.02},
      {"x":74,"y":-0.025},{"x":75,"y":-0.017},{"x":76,"y":-0.022},{"x":76,"y":-0.027},{"x":77,"y":-0.019},{"x":78,"y":-0.024},
      {"x":78,"y":-0.029},{"x":79,"y":-0.021},{"x":80,"y":-0.026},{"x":80,"y":-0.031},{"x":81,"y":-0.023},{"x":82,"y":-0.028},
      {"x":82,"y":-0.033},{"x":83,"y":-0.024},{"x":84,"y":-0.03},{"x":84,"y":-0.036},{"x":85,"y":-0.027},{"x":86,"y":-0.034},
      {"x":86,"y":-0.04},{"x":87,"y":-0.028},{"x":88,"y":-0.038},{"x":88,"y":-0.044},{"x":89,"y":-0.03},{"x":90,"y":-0.042},
      {"x":90,"y":-0.048},{"x":91,"y":-0.025},{"x":92,"y":-0.034},{"x":92,"y":-0.046},{"x":93,"y":-0.052},{"x":94,"y":-0.028},
      {"x":94,"y":-0.05},{"x":95,"y":-0.04},{"x":96,"y":-0.048},{"x":96,"y":-0.055},{"x":97,"y":-0.036},{"x":98,"y":-0.052},
      {"x":98,"y":-0.058},{"x":99,"y":-0.032},{"x":99,"y":-0.046},{"x":100,"y":-0.06},{"x":101,"y":-0.042},{"x":102,"y":-0.035},
      {"x":102,"y":-0.062},{"x":103,"y":-0.05},{"x":104,"y":-0.058},{"x":104,"y":-0.064},{"x":105,"y":-0.03},{"x":106,"y":-0.044},
      {"x":106,"y":-0.066},{"x":107,"y":-0.055},{"x":108,"y":-0.068},{"x":109,"y":-0.048},{"x":110,"y":-0.07},{"x":111,"y":-0.058},
      {"x":112,"y":-0.072},{"x":113,"y":-0.04},{"x":113,"y":-0.064},{"x":114,"y":-0.074},{"x":115,"y":-0.05},{"x":116,"y":-0.076},
      {"x":117,"y":-0.066},{"x":118,"y":-0.078},{"x":118,"y":-0.06},{"x":119,"y":-0.07},{"x":120,"y":-0.082},{"x":120,"y":-0.075},
      {"x":120,"y":-0.068},{"x":119,"y":-0.083},{"x":117,"y":-0.08}
    ],
    "f": [
      {"x":0.38,"y":0.0378},{"x":0.466,"y":0.0378},{"x":0.64,"y":0.035},{"x":0.64,"y":0.029},{"x":0.7,"y":0.036},
      {"x":0.727,"y":0.0648},{"x":0.78,"y":0.0665},{"x":0.75,"y":0.032},{"x":0.8,"y":0.038},{"x":0.82,"y":0.03},
      {"x":0.85,"y":0.042},{"x":0.86,"y":0.033},{"x":0.88,"y":0.028},{"x":0.9,"y":0.05},{"x":0.9,"y":0.036},
      {"x":0.92,"y":0.03},{"x":0.95,"y":0.045},{"x":0.95,"y":0.034},{"x":0.98,"y":0.026},{"x":1.0,"y":0.058},
      {"x":1.0,"y":0.04},{"x":1.0,"y":0.03},{"x":1.03,"y":0.034},{"x":1.05,"y":0.028},{"x":1.05,"y":0.048},
      {"x":1.08,"y":0.032},{"x":1.1,"y":0.052},{"x":1.1,"y":0.038},{"x":1.1,"y":0.026},{"x":1.13,"y":0.03},
      {"x":1.15,"y":0.044},{"x":1.15,"y":0.024},{"x":1.18,"y":0.034},{"x":1.2,"y":0.054},{"x":1.2,"y":0.028},
      {"x":1.22,"y":0.042},{"x":1.25,"y":0.032},{"x":1.25,"y":0.048},{"x":1.28,"y":0.025},{"x":1.3,"y":0.056},
      {"x":1.3,"y":0.038},{"x":1.33,"y":0.03},{"x":1.35,"y":0.05},{"x":1.35,"y":0.042},{"x":1.38,"y":0.026},
      {"x":1.4,"y":0.057},{"x":1.4,"y":0.035},{"x":1.42,"y":0.046},{"x":1.45,"y":0.03},{"x":1.45,"y":0.052},
      {"x":1.48,"y":0.04},{"x":1.5,"y":0.056},{"x":1.5,"y":0.044},{"x":1.5,"y":0.024},{"x":1.52,"y":0.034},
      {"x":1.52,"y":0.05},{"x":1.55,"y":0.048},{"x":1.55,"y":0.04},{"x":1.55,"y":0.03},{"x":1.55,"y":0.022},
      {"x":1.57,"y":0.044},{"x":1.57,"y":0.036},{"x":1.58,"y":0.028},{"x":1.6,"y":0.04},{"x":1.6,"y":0.02},
      {"x":1.62,"y":0.025},{"x":1.63,"y":0.015},{"x":1.64,"y":0.018},{"x":1.65,"y":0.022},{"x":1.66,"y":0.012},{"x":1.68,"y":0.028},
      {"x":1.69,"y":0.022},{"x":1.7,"y":0.018},{"x":1.7,"y":0.01},{"x":1.72,"y":0.024},{"x":1.73,"y":0.017},{"x":1.74,"y":0.014},
      {"x":1.75,"y":0.02},{"x":1.76,"y":0.012},{"x":1.77,"y":0.016},{"x":1.78,"y":0.008},{"x":1.79,"y":0.015},{"x":1.8,"y":0.02},
      {"x":1.8,"y":0.012},{"x":1.81,"y":0.01},{"x":1.82,"y":0.015},{"x":1.84,"y":0.006},{"x":1.85,"y":0.012},{"x":1.86,"y":0.01},
      {"x":1.87,"y":0.004},{"x":1.88,"y":0.008},{"x":1.89,"y":0.004},{"x":1.9,"y":0.002},{"x":1.9,"y":-0.004},{"x":1.91,"y":0.0},
      {"x":1.92,"y":0.004},{"x":1.93,"y":-0.002},{"x":1.94,"y":-0.004},{"x":1.95,"y":-0.008},{"x":1.96,"y":0.0},{"x":1.97,"y":-0.012},
      {"x":1.98,"y":-0.005},{"x":1.99,"y":-0.01},{"x":2.0,"y":-0.015},{"x":2.0,"y":-0.006},{"x":2.01,"y":-0.012},
      {"x":2.02,"y":-0.02},{"x":2.03,"y":-0.01},{"x":2.04,"y":-0.018},{"x":2.05,"y":-0.025},{"x":2.05,"y":-0.015},{"x":2.06,"y":-0.022},
      {"x":2.07,"y":-0.005},{"x":2.08,"y":-0.02},{"x":2.09,"y":-0.016},{"x":2.1,"y":-0.028},{"x":2.1,"y":-0.012},{"x":2.11,"y":-0.025},
      {"x":2.12,"y":-0.022},{"x":2.13,"y":-0.018},{"x":2.15,"y":-0.03},{"x":2.15,"y":-0.018},{"x":2.16,"y":-0.024},{"x":2.18,"y":-0.025},
      {"x":2.19,"y":-0.03},{"x":2.2,"y":-0.035},{"x":2.2,"y":-0.02},{"x":2.21,"y":-0.026},
      {"x":2.22,"y":-0.03},{"x":2.24,"y":-0.033},{"x":2.25,"y":-0.038},{"x":2.25,"y":-0.025},{"x":2.27,"y":-0.036},{"x":2.28,"y":-0.032},
      {"x":2.3,"y":-0.04},{"x":2.3,"y":-0.028},{"x":2.32,"y":-0.03},{"x":2.33,"y":-0.035},{"x":2.35,"y":-0.042},{"x":2.36,"y":-0.038},
      {"x":2.38,"y":-0.03},{"x":2.4,"y":-0.038},{"x":2.4,"y":-0.045},{"x":2.42,"y":-0.04},{"x":2.43,"y":-0.034},{"x":2.45,"y":-0.04},
      {"x":2.47,"y":-0.036},{"x":2.48,"y":-0.046},{"x":2.5,"y":-0.036},{"x":2.5,"y":-0.042},{"x":2.52,"y":-0.044},{"x":2.53,"y":-0.048},
      {"x":2.55,"y":-0.04},{"x":2.57,"y":-0.038},{"x":2.58,"y":-0.044},{"x":2.6,"y":-0.038},{"x":2.6,"y":-0.048},
      {"x":2.65,"y":-0.042},{"x":2.68,"y":-0.046},{"x":2.7,"y":-0.04},{"x":2.72,"y":-0.05},
      {"x":2.76,"y":-0.027},{"x":2.78,"y":-0.044},{"x":2.8,"y":-0.048},{"x":2.82,"y":-0.04},{"x":2.85,"y":-0.045},
      {"x":2.88,"y":-0.05},{"x":2.9,"y":-0.042},{"x":2.92,"y":-0.052},{"x":2.95,"y":-0.047},{"x":2.98,"y":-0.054},
      {"x":3.0,"y":-0.048},{"x":3.02,"y":-0.052},{"x":3.07,"y":-0.054},{"x":3.1,"y":-0.05},{"x":3.15,"y":-0.0575},
      {"x":3.18,"y":-0.053},{"x":3.37,"y":-0.0586},{"x":3.46,"y":-0.0617},{"x":3.58,"y":-0.0575}
    ],
    "g": [
      {"x":0.47,"y":-0.097},{"x":0.57,"y":-0.096},{"x":0.5,"y":-0.075},{"x":0.57,"y":-0.053},{"x":0.6,"y":-0.087},
      {"x":0.77,"y":-0.084},{"x":0.55,"y":-0.082},{"x":0.62,"y":-0.07},{"x":0.65,"y":-0.09},{"x":0.68,"y":-0.078},
      {"x":0.7,"y":-0.065},{"x":0.72,"y":-0.088},{"x":0.75,"y":-0.07},{"x":0.78,"y":-0.058},{"x":0.8,"y":-0.09},
      {"x":0.8,"y":-0.075},{"x":0.82,"y":-0.085},{"x":0.83,"y":-0.06},{"x":0.85,"y":-0.092},{"x":0.85,"y":-0.072},
      {"x":0.86,"y":-0.05},{"x":0.87,"y":-0.04},{"x":0.88,"y":-0.08},{"x":0.88,"y":-0.065},{"x":0.9,"y":-0.055},
      {"x":0.9,"y":-0.035},{"x":0.9,"y":-0.025},{"x":0.92,"y":-0.045},{"x":0.92,"y":-0.07},{"x":0.93,"y":-0.03},
      {"x":0.95,"y":-0.05},{"x":0.95,"y":-0.04},{"x":0.95,"y":-0.02},{"x":0.97,"y":-0.035},{"x":0.98,"y":-0.025},
      {"x":1.0,"y":-0.045},{"x":1.0,"y":-0.03},{"x":1.0,"y":-0.018},{"x":1.02,"y":-0.022},{"x":1.03,"y":-0.012},
      {"x":1.05,"y":-0.035},{"x":1.05,"y":-0.02},{"x":1.07,"y":-0.028},{"x":1.08,"y":-0.01},{"x":1.1,"y":-0.022},
      {"x":1.1,"y":-0.008},{"x":1.12,"y":-0.016},{"x":1.15,"y":-0.012},{"x":1.15,"y":-0.005},{"x":1.18,"y":-0.01},
      {"x":1.2,"y":-0.006},{"x":1.2,"y":0.0},{"x":1.22,"y":-0.004},{"x":1.25,"y":0.0},{"x":1.28,"y":-0.003},
      {"x":1.28,"y":0.005},{"x":1.3,"y":0.002},{"x":1.32,"y":0.008},{"x":1.35,"y":0.006},{"x":1.38,"y":0.012},
      {"x":1.4,"y":0.01},{"x":1.42,"y":0.016},{"x":1.45,"y":0.014},{"x":1.48,"y":0.02},{"x":1.5,"y":0.018},
      {"x":1.5,"y":0.01},{"x":1.52,"y":0.025},{"x":1.55,"y":0.022},{"x":1.55,"y":0.0},{"x":1.58,"y":0.028},
      {"x":1.6,"y":0.03},{"x":1.6,"y":0.015},{"x":1.62,"y":0.034},{"x":1.65,"y":0.032},{"x":1.65,"y":0.02},
      {"x":1.68,"y":0.038},{"x":1.7,"y":0.04},{"x":1.7,"y":0.025},{"x":1.72,"y":0.044},{"x":1.75,"y":0.045},
      {"x":1.75,"y":0.03},{"x":1.78,"y":0.05},{"x":1.8,"y":0.052},{"x":1.8,"y":0.035},{"x":1.82,"y":0.058},
      {"x":1.85,"y":0.06},{"x":1.85,"y":0.04},{"x":1.88,"y":0.065},{"x":1.9,"y":0.062},{"x":1.9,"y":0.045},
      {"x":1.92,"y":0.07},{"x":1.95,"y":0.072},{"x":1.95,"y":0.05},{"x":1.98,"y":0.075},{"x":2.0,"y":0.078},
      {"x":2.0,"y":0.055},{"x":2.02,"y":0.04},{"x":2.05,"y":0.08},{"x":2.05,"y":0.06},{"x":2.08,"y":0.083},
      {"x":2.1,"y":0.085},{"x":2.1,"y":0.048},{"x":2.12,"y":0.068},{"x":2.15,"y":0.088},{"x":2.15,"y":0.055},
      {"x":2.2,"y":0.09},{"x":2.2,"y":0.07},{"x":2.22,"y":0.045},{"x":2.25,"y":0.092},{"x":2.25,"y":0.06},
      {"x":2.28,"y":0.093},{"x":2.3,"y":0.05},{"x":2.43,"y":0.04},{"x":2.52,"y":0.04},{"x":2.5,"y":0.053},
      {"x":2.57,"y":0.118},{"x":2.62,"y":0.066},{"x":2.66,"y":0.072},{"x":2.76,"y":0.053},{"x":2.78,"y":0.05},
      {"x":2.79,"y":0.122},{"x":2.92,"y":0.0956},{"x":2.94,"y":0.132},{"x":2.94,"y":0.123},{"x":2.97,"y":0.11},
      {"x":3.16,"y":0.0826},{"x":4.33,"y":0.0865},
      {"x":1.0,"y":0},{"x":1.05,"y":0},{"x":1.1,"y":0},{"x":1.15,"y":0},{"x":1.22,"y":0},{"x":1.3,"y":0},
      {"x":0.82,"y":-0.07},{"x":0.84,"y":-0.078},{"x":0.86,"y":-0.085},{"x":0.87,"y":-0.06},{"x":0.89,"y":-0.072},
      {"x":0.89,"y":-0.045},{"x":0.91,"y":-0.06},{"x":0.91,"y":-0.03},{"x":0.93,"y":-0.05},{"x":0.94,"y":-0.038},
      {"x":0.96,"y":-0.028},{"x":0.96,"y":-0.045},{"x":0.99,"y":-0.038},{"x":0.99,"y":-0.022},{"x":1.01,"y":-0.03},
      {"x":1.03,"y":-0.04},{"x":1.04,"y":-0.025},{"x":1.06,"y":-0.015},{"x":1.09,"y":-0.018},{"x":1.11,"y":-0.012},
      {"x":1.13,"y":-0.022},{"x":1.14,"y":-0.008},{"x":1.17,"y":-0.006},{"x":1.19,"y":-0.014},{"x":1.21,"y":-0.002},
      {"x":1.24,"y":-0.006},{"x":1.26,"y":0.003},{"x":1.3,"y":-0.004},{"x":1.33,"y":0.004},{"x":1.36,"y":0.01},
      {"x":1.39,"y":0.007},{"x":1.41,"y":0.013},{"x":1.44,"y":0.018},{"x":1.47,"y":0.016},{"x":1.5,"y":0.022},
      {"x":1.53,"y":0.02},{"x":1.56,"y":0.026},{"x":1.58,"y":0.018},{"x":1.61,"y":0.024},{"x":1.63,"y":0.028},
      {"x":1.66,"y":0.036},{"x":1.67,"y":0.026},{"x":1.69,"y":0.032},{"x":1.71,"y":0.036},{"x":1.73,"y":0.04},
      {"x":1.74,"y":0.028},{"x":1.77,"y":0.042},{"x":1.79,"y":0.046},{"x":1.81,"y":0.04},{"x":1.83,"y":0.05},
      {"x":1.86,"y":0.055},{"x":1.87,"y":0.045},{"x":1.89,"y":0.058},{"x":1.91,"y":0.052},{"x":1.93,"y":0.064},
      {"x":1.94,"y":0.058},{"x":1.97,"y":0.068},{"x":1.99,"y":0.062},{"x":2.01,"y":0.072},{"x":2.03,"y":0.066},
      {"x":2.06,"y":0.075},{"x":2.07,"y":0.07},{"x":2.09,"y":0.078},{"x":2.11,"y":0.076},{"x":2.13,"y":0.082},
      {"x":2.16,"y":0.08},{"x":2.18,"y":0.086},{"x":2.21,"y":0.084},{"x":2.24,"y":0.088},{"x":2.26,"y":0.09},
      {"x":1.95,"y":0.04},{"x":2.0,"y":0.045},{"x":2.05,"y":0.05},{"x":2.18,"y":0.06},{"x":2.27,"y":0.055},{"x":2.35,"y":0.045}
    ],
    "h": [
      {"x":98,"y":-0.037},{"x":140,"y":-0.034},{"x":150,"y":-0.037},{"x":165,"y":-0.038},{"x":175,"y":-0.035},
      {"x":185,"y":-0.033},{"x":193,"y":-0.04},{"x":200,"y":-0.03},{"x":205,"y":-0.024},{"x":210,"y":-0.036},
      {"x":215,"y":-0.028},{"x":220,"y":-0.02},{"x":225,"y":-0.032},{"x":230,"y":-0.015},{"x":235,"y":-0.025},
      {"x":240,"y":-0.012},{"x":240,"y":-0.035},{"x":245,"y":-0.02},{"x":250,"y":-0.028},{"x":250,"y":-0.038},
      {"x":255,"y":-0.015},{"x":258,"y":-0.024},{"x":260,"y":-0.032},{"x":265,"y":-0.02},{"x":268,"y":-0.028},
      {"x":270,"y":-0.013},{"x":272,"y":-0.036},{"x":275,"y":-0.024},{"x":278,"y":-0.017},{"x":280,"y":-0.03},
      {"x":283,"y":-0.022},{"x":285,"y":-0.012},{"x":288,"y":-0.034},{"x":290,"y":-0.026},{"x":292,"y":-0.018},
      {"x":295,"y":-0.03},{"x":298,"y":-0.022},{"x":300,"y":-0.014},{"x":302,"y":-0.028},{"x":305,"y":-0.02},
      {"x":308,"y":-0.033},{"x":310,"y":-0.024},{"x":312,"y":-0.016},{"x":315,"y":-0.028},{"x":318,"y":-0.02},
      {"x":320,"y":-0.012},{"x":322,"y":-0.025},{"x":325,"y":-0.018},{"x":328,"y":-0.01},{"x":330,"y":-0.022},
      {"x":332,"y":-0.015},{"x":335,"y":-0.008},{"x":338,"y":-0.018},{"x":340,"y":-0.012},{"x":343,"y":-0.005},
      {"x":345,"y":-0.01},{"x":348,"y":-0.003},{"x":350,"y":-0.007},{"x":355,"y":-0.002},{"x":360,"y":-0.005},
      {"x":365,"y":0.0},{"x":370,"y":-0.002},{"x":375,"y":0.002},{"x":380,"y":0.0},{"x":385,"y":0.004},
      {"x":390,"y":0.002},{"x":395,"y":0.006},{"x":400,"y":0.004},{"x":405,"y":0.008},{"x":410,"y":0.006},
      {"x":415,"y":0.01},{"x":420,"y":0.008},{"x":425,"y":0.012},{"x":430,"y":0.01},{"x":435,"y":0.015},
      {"x":440,"y":0.013},{"x":445,"y":0.018},{"x":450,"y":0.016},{"x":455,"y":0.022},{"x":460,"y":0.02},
      {"x":340,"y":0},{"x":350,"y":0},{"x":360,"y":0},{"x":370,"y":0},{"x":390,"y":0},{"x":400,"y":0},{"x":410,"y":0},{"x":420,"y":0},
      {"x":455,"y":0.03},{"x":458,"y":0.038},{"x":460,"y":0.025},{"x":462,"y":0.034},{"x":465,"y":0.042},
      {"x":468,"y":0.028},{"x":470,"y":0.036},{"x":472,"y":0.02},{"x":475,"y":0.032},{"x":478,"y":0.04},
      {"x":480,"y":0.024},{"x":482,"y":0.03},{"x":485,"y":0.038},{"x":488,"y":0.042},{"x":490,"y":0.026},
      {"x":492,"y":0.034},{"x":495,"y":0.04},{"x":498,"y":0.03},{"x":500,"y":0.036},{"x":502,"y":0.042},
      {"x":505,"y":0.028},{"x":508,"y":0.038},{"x":510,"y":0.032},{"x":512,"y":0.04},{"x":475,"y":0.016},
      {"x":490,"y":0.018},{"x":500,"y":0.022},{"x":510,"y":0.024},{"x":515,"y":0.035},{"x":465,"y":0.014},
      {"x":530,"y":-0.003},{"x":533,"y":-0.01},{"x":535,"y":0.002},{"x":538,"y":-0.006},{"x":540,"y":-0.012},
      {"x":542,"y":0.0},{"x":545,"y":-0.008},{"x":548,"y":0.003},{"x":550,"y":-0.004},{"x":552,"y":-0.011},
      {"x":555,"y":0.001},{"x":558,"y":-0.006},{"x":562,"y":0.005},{"x":565,"y":0.01},{"x":568,"y":0.0},
      {"x":570,"y":0.014},{"x":572,"y":0.008},{"x":575,"y":0.012},{"x":580,"y":0.018},{"x":583,"y":0.01},
      {"x":585,"y":0.016},{"x":590,"y":0.02},{"x":595,"y":0.014},{"x":600,"y":0.022},{"x":605,"y":0.018},
      {"x":610,"y":0.024},{"x":615,"y":0.016},{"x":620,"y":0.02},{"x":625,"y":0.023},{"x":630,"y":0.018},
      {"x":640,"y":0.022},{"x":645,"y":0.016},{"x":650,"y":0.024},{"x":660,"y":0.02},{"x":670,"y":0.029},
      {"x":680,"y":0.015},{"x":690,"y":0.022},{"x":700,"y":0.026},{"x":705,"y":0.018},{"x":710,"y":0.014},
      {"x":720,"y":0.03},{"x":725,"y":0.02},{"x":730,"y":0.025},{"x":738,"y":0.032},{"x":740,"y":0.011},
      {"x":745,"y":0.03},{"x":750,"y":0.018},{"x":930,"y":0.029},
      {"x":220,"y":-0.03},{"x":228,"y":-0.026},{"x":232,"y":-0.036},{"x":238,"y":-0.022},{"x":243,"y":-0.03},
      {"x":248,"y":-0.017},{"x":252,"y":-0.033},{"x":256,"y":-0.027},{"x":262,"y":-0.024},{"x":263,"y":-0.037},
      {"x":266,"y":-0.016},{"x":274,"y":-0.03},{"x":276,"y":-0.02},{"x":281,"y":-0.026},{"x":284,"y":-0.034},
      {"x":286,"y":-0.018},{"x":289,"y":-0.022},{"x":293,"y":-0.03},{"x":296,"y":-0.026},{"x":299,"y":-0.018},
      {"x":301,"y":-0.032},{"x":303,"y":-0.024},{"x":306,"y":-0.016},{"x":309,"y":-0.028},{"x":311,"y":-0.02},
      {"x":314,"y":-0.012},{"x":316,"y":-0.024},{"x":319,"y":-0.016},{"x":321,"y":-0.03},{"x":324,"y":-0.022},
      {"x":326,"y":-0.014},{"x":329,"y":-0.018},{"x":331,"y":-0.026},{"x":334,"y":-0.012},{"x":336,"y":-0.02},
      {"x":339,"y":-0.008},{"x":342,"y":-0.015},{"x":344,"y":-0.006},{"x":347,"y":-0.012},{"x":352,"y":-0.004},
      {"x":357,"y":-0.006},{"x":362,"y":-0.002},{"x":367,"y":0.002},{"x":372,"y":0.003},{"x":378,"y":0.002},
      {"x":382,"y":0.005},{"x":388,"y":0.006},{"x":392,"y":0.004},{"x":398,"y":0.008},{"x":403,"y":0.006},
      {"x":408,"y":0.01},{"x":412,"y":0.008},{"x":418,"y":0.012},{"x":422,"y":0.01},{"x":428,"y":0.014},
      {"x":432,"y":0.012},{"x":438,"y":0.017},{"x":442,"y":0.015},{"x":448,"y":0.02},{"x":452,"y":0.018},
      {"x":458,"y":0.024},{"x":462,"y":0.022},
      {"x":457,"y":0.033},{"x":461,"y":0.041},{"x":463,"y":0.029},{"x":467,"y":0.038},{"x":469,"y":0.024},
      {"x":471,"y":0.041},{"x":473,"y":0.03},{"x":476,"y":0.036},{"x":479,"y":0.028},{"x":481,"y":0.042},
      {"x":484,"y":0.034},{"x":486,"y":0.025},{"x":489,"y":0.036},{"x":491,"y":0.03},{"x":494,"y":0.042},
      {"x":496,"y":0.026},{"x":497,"y":0.035},{"x":499,"y":0.04},{"x":501,"y":0.03},{"x":503,"y":0.038},
      {"x":506,"y":0.033},{"x":509,"y":0.042},{"x":511,"y":0.028},{"x":513,"y":0.036},{"x":470,"y":0.018},
      {"x":480,"y":0.02},{"x":495,"y":0.02},{"x":505,"y":0.018},
      {"x":588,"y":0.012},{"x":598,"y":0.018},{"x":608,"y":0.02},{"x":618,"y":0.024},{"x":628,"y":0.02},
      {"x":635,"y":0.025},{"x":655,"y":0.02},{"x":675,"y":0.022},{"x":695,"y":0.018},{"x":715,"y":0.024},{"x":735,"y":0.028}
    ],
    "i": [
      {"x":28,"y":0.0065},{"x":30,"y":0.0078},{"x":31,"y":0.0068},{"x":32,"y":0.0072},{"x":33,"y":0.006},
      {"x":33,"y":0.0075},{"x":34,"y":0.0055},{"x":34,"y":0.0068},{"x":35,"y":0.0078},{"x":35,"y":0.006},
      {"x":36,"y":0.0065},{"x":36,"y":0.0082},{"x":37,"y":0.0055},{"x":37,"y":0.0072},{"x":38,"y":0.0088},
      {"x":38,"y":0.0065},{"x":39,"y":0.005},{"x":39,"y":0.0078},{"x":40,"y":0.0092},{"x":40,"y":0.0068},
      {"x":40,"y":0.0055},{"x":41,"y":0.0085},{"x":41,"y":0.0062},{"x":41,"y":0.0045},{"x":42,"y":0.0098},
      {"x":42,"y":0.0075},{"x":42,"y":0.0058},{"x":43,"y":0.0135},{"x":43,"y":0.0088},{"x":43,"y":0.0065},
      {"x":44,"y":0.011},{"x":44,"y":0.008},{"x":44,"y":0.006},{"x":45,"y":0.0095},{"x":45,"y":0.0072},
      {"x":45,"y":0.0052},{"x":46,"y":0.012},{"x":46,"y":0.0085},{"x":46,"y":0.0065},{"x":47,"y":0.0102},
      {"x":47,"y":0.0075},{"x":47,"y":0.0055},{"x":48,"y":0.0155},{"x":48,"y":0.009},{"x":48,"y":0.0068},
      {"x":49,"y":0.0152},{"x":49,"y":0.0108},{"x":49,"y":0.0078},{"x":49,"y":0.0058},{"x":50,"y":0.0095},
      {"x":50,"y":0.007},{"x":50,"y":0.005},{"x":51,"y":0.0082},{"x":51,"y":0.0058},{"x":51,"y":0.004},
      {"x":52,"y":0.007},{"x":52,"y":0.0045},{"x":52,"y":0.003},{"x":53,"y":0.006},{"x":53,"y":0.0035},
      {"x":53,"y":0.002},{"x":53,"y":0.001},{"x":54,"y":0.0062},{"x":54,"y":0.004},{"x":54,"y":0.0022},
      {"x":54,"y":0.0008},{"x":55,"y":0.009},{"x":55,"y":0.0055},{"x":55,"y":0.003},{"x":55,"y":0.0012},
      {"x":56,"y":0.011},{"x":56,"y":0.0075},{"x":56,"y":0.0048},{"x":56,"y":0.0025},{"x":57,"y":0.0125},
      {"x":57,"y":0.0095},{"x":57,"y":0.0065},{"x":57,"y":0.004},{"x":58,"y":0.0135},{"x":58,"y":0.0105},
      {"x":58,"y":0.008},{"x":58,"y":0.0055},{"x":59,"y":0.014},{"x":59,"y":0.0115},{"x":59,"y":0.009},
      {"x":59,"y":0.0065},{"x":60,"y":0.0165},{"x":60,"y":0.013},{"x":60,"y":0.0105},{"x":60,"y":0.0078},
      {"x":61,"y":0.0168},{"x":61,"y":0.0138},{"x":61,"y":0.0112},{"x":61,"y":0.0088},{"x":62,"y":0.0175},
      {"x":62,"y":0.0148},{"x":62,"y":0.012},{"x":62,"y":0.0095},{"x":63,"y":0.0185},{"x":63,"y":0.0158},
      {"x":63,"y":0.013},{"x":63,"y":0.0105},{"x":64,"y":0.0195},{"x":64,"y":0.0168},{"x":64,"y":0.014},
      {"x":64,"y":0.0112},{"x":64,"y":0.0085},{"x":64.5,"y":0.006},{"x":65,"y":0.0045},{"x":65,"y":0.0025},
      {"x":65.3,"y":0.001},{"x":65.5,"y":-0.001},{"x":65.8,"y":-0.0025},
      {"x":56.5,"y":0.006},{"x":57.5,"y":0.008},{"x":58.5,"y":0.011},{"x":59.5,"y":0.012},{"x":60.5,"y":0.015},
      {"x":61.5,"y":0.015},{"x":62.5,"y":0.017},{"x":63.5,"y":0.017},{"x":63.5,"y":0.012},{"x":62.5,"y":0.011},
      {"x":61.5,"y":0.01},{"x":60.5,"y":0.009},{"x":59.5,"y":0.007},{"x":58.5,"y":0.005},{"x":57.5,"y":0.003},
      {"x":51,"y":0},{"x":52.5,"y":0},{"x":54,"y":0},{"x":55.5,"y":0},{"x":57,"y":0},{"x":60,"y":0},{"x":61,"y":0},{"x":65,"y":0},
      {"x":66.5,"y":-0.01},{"x":66.5,"y":-0.014},{"x":67,"y":-0.012},{"x":67,"y":-0.018},{"x":67,"y":-0.022},
      {"x":67,"y":-0.025},{"x":67.5,"y":-0.016},{"x":67.5,"y":-0.02},{"x":68,"y":-0.011},{"x":68,"y":-0.015},
      {"x":68,"y":-0.019},{"x":68,"y":-0.023},{"x":68,"y":-0.027},{"x":68.5,"y":-0.017},{"x":68.5,"y":-0.021},
      {"x":69,"y":-0.013},{"x":69,"y":-0.016},{"x":69,"y":-0.02},{"x":69,"y":-0.024},{"x":69,"y":-0.028},
      {"x":69.5,"y":-0.018},{"x":70,"y":-0.014},{"x":70,"y":-0.019},{"x":70,"y":-0.022},{"x":70,"y":-0.025},
      {"x":70,"y":-0.029},{"x":70.5,"y":-0.017},{"x":71,"y":-0.013},{"x":71,"y":-0.018},{"x":71,"y":-0.021},
      {"x":71,"y":-0.026},{"x":72,"y":-0.015},{"x":72,"y":-0.02},{"x":72,"y":-0.024},{"x":73,"y":-0.013},
      {"x":73,"y":-0.017},{"x":73,"y":-0.022},{"x":73,"y":-0.027},{"x":74,"y":-0.016},{"x":74,"y":-0.021},
      {"x":74,"y":-0.025},{"x":75,"y":-0.014},{"x":75,"y":-0.02},{"x":75,"y":-0.024},{"x":76,"y":-0.017},
      {"x":76,"y":-0.022},{"x":76,"y":-0.028},{"x":77,"y":-0.019},{"x":77,"y":-0.025},{"x":78,"y":-0.016},
      {"x":78,"y":-0.023},{"x":79,"y":-0.02},{"x":79.4,"y":-0.026},{"x":80,"y":-0.017},{"x":80,"y":-0.023},
      {"x":81.4,"y":-0.0145},{"x":83.4,"y":-0.0239},{"x":88.5,"y":-0.0068},{"x":89.5,"y":-0.023},
      {"x":67.5,"y":-0.024},{"x":68.5,"y":-0.013},{"x":68.5,"y":-0.025},{"x":69.5,"y":-0.022},{"x":69.5,"y":-0.026},
      {"x":70.5,"y":-0.021},{"x":70.5,"y":-0.027},{"x":71.5,"y":-0.016},{"x":71.5,"y":-0.023},{"x":72.5,"y":-0.018},
      {"x":72.5,"y":-0.026},{"x":73.5,"y":-0.02},{"x":74.5,"y":-0.018},{"x":75.5,"y":-0.022},{"x":66.8,"y":-0.02},{"x":67.2,"y":-0.027}
    ]
  },
  "concat": [
    {
      "title": "a", "width": 168, "height": 148, "data": {"name": "a"},
      "layer": [
        {"mark": {"type": "circle", "size": 7, "color": "#1e88e5", "opacity": 1},
         "encoding": {
           "x": {"field": "x", "type": "quantitative", "scale": {"domain": [-1, 181], "nice": false, "zero": false}, "axis": {"values": [0, 25, 50, 75, 100, 125, 150, 175], "tickCount": 40, "format": "d", "title": "25OHD", "labelOverlap": false}},
           "y": {"field": "y", "type": "quantitative", "scale": {"domain": [-0.44, 0.165], "nice": false, "zero": false}, "axis": {"values": [-0.4, -0.3, -0.2, -0.1, 0, 0.1], "tickCount": 40, "format": ".1f", "title": ["SHAP value for", "25OHD"], "labelOverlap": false}}}},
        {"mark": {"type": "rule", "color": "#ff3333", "strokeWidth": 1.1, "opacity": 0.75}, "encoding": {"y": {"datum": 0}}}
      ]
    },
    {
      "title": "b", "width": 168, "height": 148, "data": {"name": "b"},
      "layer": [
        {"mark": {"type": "circle", "size": 7, "color": "#1e88e5", "opacity": 1},
         "encoding": {
           "x": {"field": "x", "type": "quantitative", "scale": {"domain": [10, 53.3], "nice": false, "zero": false}, "axis": {"values": [15, 20, 25, 30, 35, 40, 45, 50], "tickCount": 40, "format": "d", "title": "ALB", "labelOverlap": false}},
           "y": {"field": "y", "type": "quantitative", "scale": {"domain": [-0.145, 0.175], "nice": false, "zero": false}, "axis": {"values": [-0.1, -0.05, 0, 0.05, 0.1, 0.15], "tickCount": 40, "format": ".2f", "title": ["SHAP value for", "ALB"], "labelOverlap": false}}}},
        {"mark": {"type": "rule", "color": "#ff3333", "strokeWidth": 1.1, "opacity": 0.75}, "encoding": {"y": {"datum": 0}}}
      ]
    },
    {
      "title": "c", "width": 168, "height": 148, "data": {"name": "c"},
      "layer": [
        {"mark": {"type": "circle", "size": 7, "color": "#1e88e5", "opacity": 1},
         "encoding": {
           "x": {"field": "x", "type": "quantitative", "scale": {"domain": [0.1, 6.6], "nice": false, "zero": false}, "axis": {"values": [1, 2, 3, 4, 5, 6], "tickCount": 40, "format": "d", "title": "CYSC", "labelOverlap": false}},
           "y": {"field": "y", "type": "quantitative", "scale": {"domain": [-0.095, 0.136], "nice": false, "zero": false}, "axis": {"values": [-0.05, 0, 0.05, 0.1], "tickCount": 40, "format": ".2f", "title": ["SHAP value for", "CYSC"], "labelOverlap": false}}}},
        {"mark": {"type": "rule", "color": "#ff3333", "strokeWidth": 1.1, "opacity": 0.75}, "encoding": {"y": {"datum": 0}}}
      ]
    },
    {
      "title": "d", "width": 168, "height": 148, "data": {"name": "d"},
      "layer": [
        {"mark": {"type": "circle", "size": 7, "color": "#1e88e5", "opacity": 1},
         "encoding": {
           "x": {"field": "x", "type": "quantitative", "scale": {"domain": [6.5, 40.3], "nice": false, "zero": false}, "axis": {"values": [10, 15, 20, 25, 30, 35], "tickCount": 40, "format": "d", "title": "GA", "labelOverlap": false}},
           "y": {"field": "y", "type": "quantitative", "scale": {"domain": [-0.223, 0.128], "nice": false, "zero": false}, "axis": {"values": [-0.2, -0.15, -0.1, -0.05, 0, 0.05, 0.1], "tickCount": 40, "format": ".2f", "title": ["SHAP value for", "GA"], "labelOverlap": false}}}},
        {"mark": {"type": "rule", "color": "#ff3333", "strokeWidth": 1.1, "opacity": 0.75}, "encoding": {"y": {"datum": 0}}}
      ]
    },
    {
      "title": "e", "width": 168, "height": 148, "data": {"name": "e"},
      "layer": [
        {"mark": {"type": "circle", "size": 7, "color": "#1e88e5", "opacity": 1},
         "encoding": {
           "x": {"field": "x", "type": "quantitative", "scale": {"domain": [-4, 126], "nice": false, "zero": false}, "axis": {"values": [0, 20, 40, 60, 80, 100, 120], "tickCount": 40, "format": "d", "title": "eGFR", "labelOverlap": false}},
           "y": {"field": "y", "type": "quantitative", "scale": {"domain": [-0.097, 0.076], "nice": false, "zero": false}, "axis": {"values": [-0.08, -0.06, -0.04, -0.02, 0, 0.02, 0.04, 0.06], "tickCount": 40, "format": ".2f", "title": ["SHAP value for", "eGFR"], "labelOverlap": false}}}},
        {"mark": {"type": "rule", "color": "#ff3333", "strokeWidth": 1.1, "opacity": 0.75}, "encoding": {"y": {"datum": 0}}}
      ]
    },
    {
      "title": "f", "width": 168, "height": 148, "data": {"name": "f"},
      "layer": [
        {"mark": {"type": "circle", "size": 7, "color": "#1e88e5", "opacity": 1},
         "encoding": {
           "x": {"field": "x", "type": "quantitative", "scale": {"domain": [0.25, 3.72], "nice": false, "zero": false}, "axis": {"values": [0.5, 1, 1.5, 2, 2.5, 3, 3.5], "tickCount": 40, "format": ".1f", "title": "TRF", "labelOverlap": false}},
           "y": {"field": "y", "type": "quantitative", "scale": {"domain": [-0.074, 0.079], "nice": false, "zero": false}, "axis": {"values": [-0.06, -0.04, -0.02, 0, 0.02, 0.04, 0.06], "tickCount": 40, "format": ".2f", "title": ["SHAP value for", "TRF"], "labelOverlap": false}}}},
        {"mark": {"type": "rule", "color": "#ff3333", "strokeWidth": 1.1, "opacity": 0.75}, "encoding": {"y": {"datum": 0}}}
      ]
    },
    {
      "title": "g", "width": 168, "height": 148, "data": {"name": "g"},
      "layer": [
        {"mark": {"type": "circle", "size": 7, "color": "#1e88e5", "opacity": 1},
         "encoding": {
           "x": {"field": "x", "type": "quantitative", "scale": {"domain": [0.27, 4.54], "nice": false, "zero": false}, "axis": {"values": [0.5, 1, 1.5, 2, 2.5, 3, 3.5, 4, 4.5], "tickCount": 40, "format": ".1f", "title": "APO-A-I", "labelOverlap": false}},
           "y": {"field": "y", "type": "quantitative", "scale": {"domain": [-0.115, 0.152], "nice": false, "zero": false}, "axis": {"values": [-0.1, -0.05, 0, 0.05, 0.1, 0.15], "tickCount": 40, "format": ".2f", "title": ["SHAP value for", "APO-A-I"], "labelOverlap": false}}}},
        {"mark": {"type": "rule", "color": "#ff3333", "strokeWidth": 1.1, "opacity": 0.75}, "encoding": {"y": {"datum": 0}}}
      ]
    },
    {
      "title": "h", "width": 168, "height": 148, "data": {"name": "h"},
      "layer": [
        {"mark": {"type": "circle", "size": 7, "color": "#1e88e5", "opacity": 1},
         "encoding": {
           "x": {"field": "x", "type": "quantitative", "scale": {"domain": [53, 970], "nice": false, "zero": false}, "axis": {"values": [200, 400, 600, 800], "tickCount": 40, "format": "d", "title": "UA", "labelOverlap": false}},
           "y": {"field": "y", "type": "quantitative", "scale": {"domain": [-0.051, 0.052], "nice": false, "zero": false}, "axis": {"values": [-0.04, -0.02, 0, 0.02, 0.04], "tickCount": 40, "format": ".2f", "title": ["SHAP value for", "UA"], "labelOverlap": false}}}},
        {"mark": {"type": "rule", "color": "#ff3333", "strokeWidth": 1.1, "opacity": 0.75}, "encoding": {"y": {"datum": 0}}}
      ]
    },
    {
      "title": "i", "width": 168, "height": 148, "data": {"name": "i"},
      "layer": [
        {"mark": {"type": "circle", "size": 7, "color": "#1e88e5", "opacity": 1},
         "encoding": {
           "x": {"field": "x", "type": "quantitative", "scale": {"domain": [25.3, 92.6], "nice": false, "zero": false}, "axis": {"values": [30, 40, 50, 60, 70, 80, 90], "tickCount": 40, "format": "d", "title": "TP", "labelOverlap": false}},
           "y": {"field": "y", "type": "quantitative", "scale": {"domain": [-0.0367, 0.0282], "nice": false, "zero": false}, "axis": {"values": [-0.03, -0.02, -0.01, 0, 0.01, 0.02], "tickCount": 40, "format": ".2f", "title": ["SHAP value for", "TP"], "labelOverlap": false}}}},
        {"mark": {"type": "rule", "color": "#ff3333", "strokeWidth": 1.1, "opacity": 0.75}, "encoding": {"y": {"datum": 0}}}
      ]
    }
  ]
}
